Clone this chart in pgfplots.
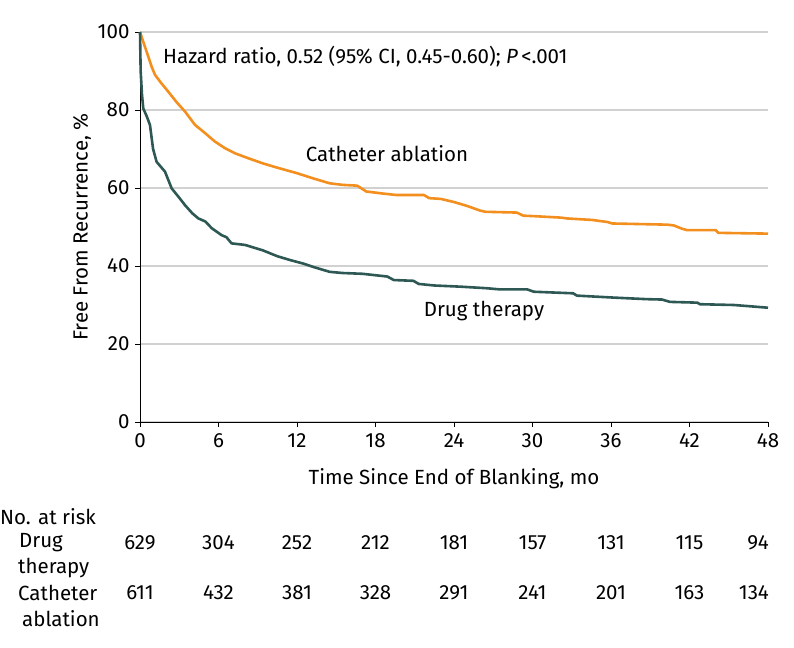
\documentclass[border=0pt]{standalone}
\usepackage{fontspec}
\setmainfont{Fira Sans}
\usepackage{pgfplots}
\pgfplotsset{compat=1.18}
\definecolor{caorange}{RGB}{242,143,30}
\definecolor{dtgreen}{RGB}{46,88,84}
\begin{document}
\begin{tikzpicture}
\path[use as bounding box] (-140pt,-225pt) rectangle (654pt,422pt);
\begin{axis}[
  at={(0pt,0pt)}, anchor=south west,
  width=628pt, height=390pt, scale only axis,
  xmin=0, xmax=48, ymin=0, ymax=100,
  xtick={0,6,...,48}, ytick={0,20,...,100},
  axis lines=left,
  axis line style={-, black, line width=0.8pt},
  tick style={black, line width=0.8pt},
  tick align=outside, major tick length=5pt,
  ymajorgrids, grid style={black!18, line width=1.2pt},
  ticklabel style={font=\fontsize{20.5}{24}\selectfont},
  /pgf/number format/assume math mode=true,
  yticklabel style={xshift=-2pt},
  xticklabel style={yshift=-3pt},
  clip=false,
]
\addplot[caorange, line width=2.6pt, line join=round] coordinates {
(0,100) (0.3,97) (0.6,94) (0.9,91) (1.15,89) (1.6,87) (2.16,84.7) (2.8,82)
(3.44,79.6) (4.2,76.2) (5.0,74) (5.73,71.9) (6.5,70.2) (7.26,68.9) (8.3,67.6)
(9.4,66.3) (10.5,65.2) (12.0,63.8) (13.2,62.5) (14.5,61.2) (15.5,60.8) (16.6,60.6)
(17.3,59.1) (18.5,58.6) (19.6,58.2) (21.7,58.2) (22.1,57.4) (23.0,57.2) (24.0,56.4)
(25.0,55.4) (26.0,54.2) (26.4,53.9) (28.8,53.7) (29.3,52.9) (30.0,52.8) (32.2,52.4)
(32.6,52.2) (34.6,51.8) (35.0,51.6) (35.7,51.3) (36.1,50.9) (40.3,50.6) (40.8,50.4)
(41.4,49.6) (41.8,49.2) (44.0,49.2) (44.2,48.5) (48,48.3)
};
\addplot[dtgreen, line width=2.6pt, line join=round] coordinates {
(0,100) (0.05,90) (0.15,84) (0.25,80.4) (0.5,78.5) (0.76,76.2) (1.0,70) (1.27,66.7)
(1.91,64.2) (2.42,59.9) (3.0,57.5) (3.44,55.6) (4.0,53.5) (4.46,52.2) (5.0,51.4)
(5.48,49.7) (6.24,47.9) (6.6,47.4) (7.0,45.8) (8.03,45.4) (9.4,44.0) (10.5,42.5)
(11.5,41.5) (12.5,40.6) (13.2,39.8) (14.5,38.5) (15.5,38.2) (17.0,38.0) (18.9,37.3)
(19.4,36.4) (20.9,36.2) (21.3,35.4) (22.5,35.0) (24.5,34.7) (26.5,34.3) (27.5,34.0)
(29.6,34.0) (30.1,33.4) (33.1,33.0) (33.4,32.4) (36.2,31.9) (38.7,31.5) (39.9,31.4)
(40.5,30.8) (42.6,30.6) (42.8,30.2) (45.4,30.0) (46.9,29.6) (48,29.3)
};
\end{axis}
\begin{scope}[every node/.style={font=\fontsize{20.5}{24}\selectfont, inner sep=0pt}]
\node[anchor=west] at (23pt,365pt) {Hazard ratio, 0.52 (95\% CI, 0.45-0.60); \emph{P}\,<.001};
\node at (247pt,268pt) {Catheter ablation};
\node at (344pt,111pt) {Drug therapy};
\node[rotate=90] at (-58pt,195pt) {Free From Recurrence, \%};
\node at (314pt,-57pt) {Time Since End of Blanking, mo};
\node[anchor=west] at (-140pt,-95pt) {No. at risk};
\node[anchor=west] at (-121pt,-121pt) {Drug};
\node[anchor=west] at (-122pt,-146pt) {therapy};
\node[anchor=west] at (-122pt,-171pt) {Catheter};
\node[anchor=west] at (-118pt,-197pt) {ablation};
\foreach \v [count=\i from 0] in {629,304,252,212,181,157,131,115}
  \node at (\i*78.5pt,-121pt) {\v};
\node[anchor=east] at (629pt,-121pt) {94};
\foreach \v [count=\i from 0] in {611,432,381,328,291,241,201,163}
  \node at (\i*78.5pt,-171pt) {\v};
\node[anchor=east] at (629pt,-171pt) {134};
\end{scope}
\end{tikzpicture}
\end{document}
